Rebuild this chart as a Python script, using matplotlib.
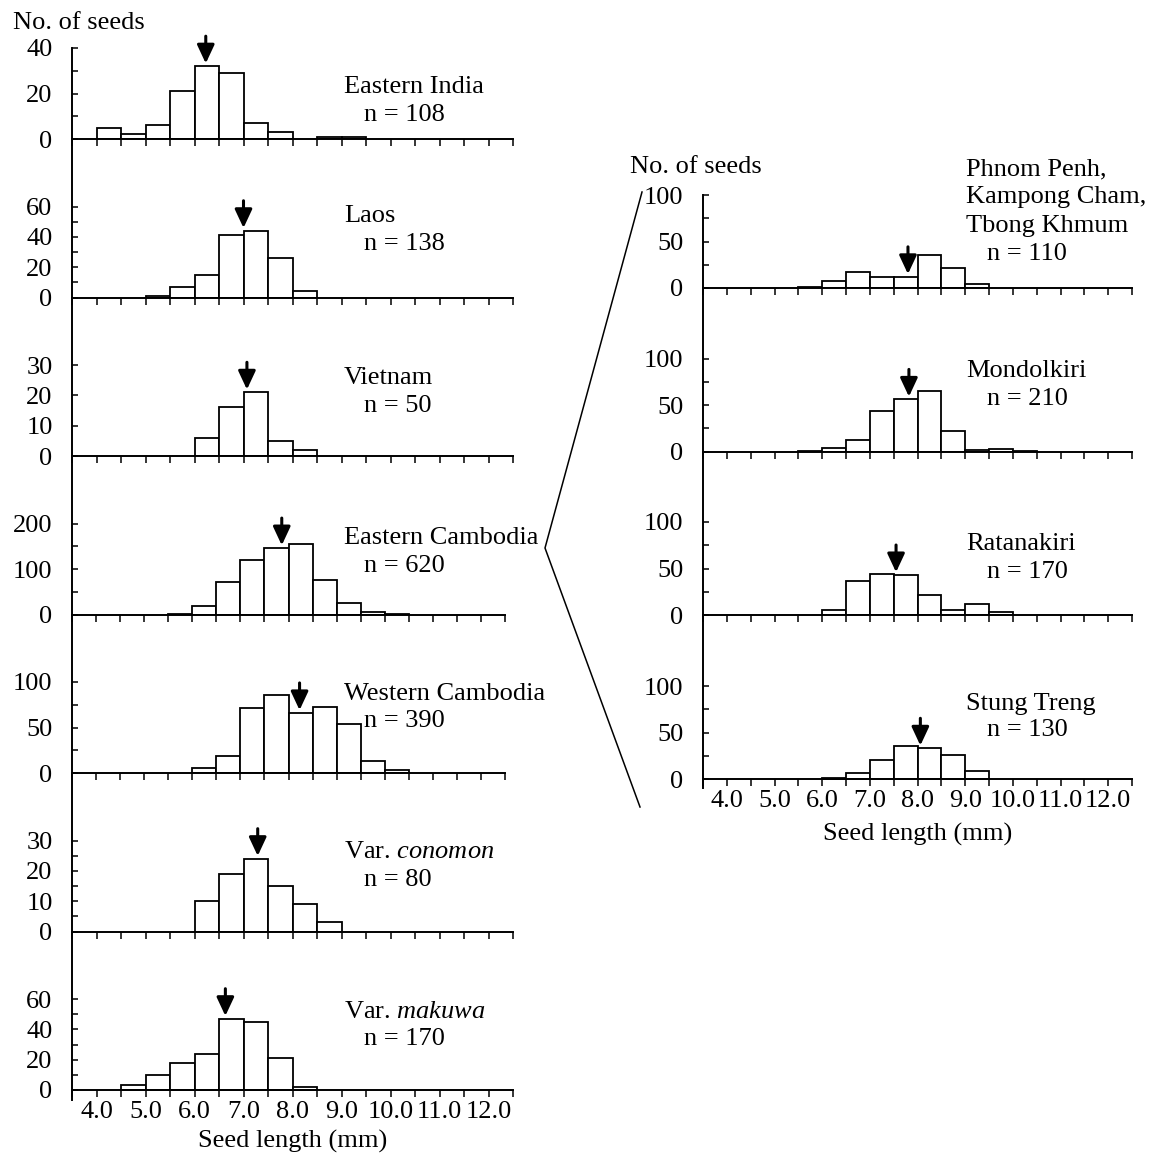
import numpy as np
import matplotlib.pyplot as plt
from matplotlib.lines import Line2D

plt.rcParams['font.family'] = ['Liberation Serif', 'DejaVu Serif']
plt.rcParams['mathtext.fontset'] = 'custom'
plt.rcParams['mathtext.rm'] = 'Liberation Serif'
plt.rcParams['mathtext.it'] = 'Liberation Serif:italic'
plt.rcParams['font.size'] = 19

# left edges of the 0.5 mm bins
bin_left = [4.0, 4.5, 5.0, 5.5, 6.0, 6.5, 7.0, 7.5, 8.0, 8.5, 9.0, 9.5, 10.0]
xtick_labels = ['4.0', '5.0', '6.0', '7.0', '8.0', '9.0', '10.0', '11.0', '12.0']

left_names = ['Eastern India', 'Laos', 'Vietnam', 'Eastern Cambodia',
              'Western Cambodia', 'Var. $\\mathit{conomon}$', 'Var. $\\mathit{makuwa}$']
left_n = [108, 138, 50, 620, 390, 80, 170]
east_india = [5, 2, 6, 21, 32, 29, 7, 3, 0, 1, 1, 0, 0]
laos = [0, 0, 1, 7, 15, 41, 44, 26, 4, 0, 0, 0, 0]
vietnam = [0, 0, 0, 0, 6, 16, 21, 5, 2, 0, 0, 0, 0]
east_cambodia = [0, 0, 0, 2, 18, 72, 120, 146, 154, 75, 26, 5, 2]
west_cambodia = [0, 0, 0, 0, 5, 19, 71, 86, 66, 73, 54, 13, 3]
conomon = [0, 0, 0, 0, 10, 19, 24, 15, 9, 3, 0, 0, 0]
makuwa = [0, 3, 10, 18, 24, 47, 45, 21, 2, 0, 0, 0, 0]
left_counts = [east_india, laos, vietnam, east_cambodia, west_cambodia, conomon, makuwa]
left_means = [6.23, 7.0, 7.07, 7.86, 8.23, 7.29, 6.63]
left_ymax = [40, 60, 30, 200, 100, 30, 60]
left_ystep = [20, 20, 10, 100, 50, 10, 20]
left_yminor = [10, 10, 10, 50, 25, 5, 10]

right_names = ['Phnom Penh,\nKampong Cham,\nTbong Khmum', 'Mondolkiri', 'Ratanakiri', 'Stung Treng']
right_n = [110, 210, 170, 130]
phnom_penh = [0, 0, 0, 1, 7, 17, 12, 12, 35, 22, 4, 0, 0]
mondolkiri = [0, 0, 0, 1, 4, 12, 44, 56, 65, 22, 2, 3, 1]
ratanakiri = [0, 0, 0, 0, 5, 37, 44, 43, 21, 5, 12, 3, 0]
stung_treng = [0, 0, 0, 0, 1, 6, 20, 35, 33, 26, 9, 0, 0]
right_counts = [phnom_penh, mondolkiri, ratanakiri, stung_treng]
right_means = [7.80, 7.82, 7.55, 8.06]
right_ymax = [100, 100, 100, 100]
right_ystep = [50, 50, 50, 50]
right_yminor = [25, 25, 25, 25]

W, H = 1155, 1158
PT = 0.72  # points per pixel at dpi 100

fig = plt.figure(figsize=(W / 100, H / 100), dpi=100)


def make_axes(x0, x1, top, bottom):
    return fig.add_axes([x0 / W, 1 - bottom / H, (x1 - x0) / W, (bottom - top) / H])


def draw_panel(ax, counts, mean, ymax, ystep, yminor, name, n, height_px, tick_px,
               below_px, name_dy, n_dy, name_dx, n_dx, last):
    ax.set_facecolor('none')
    ax.set_ylim(-ymax * below_px / tick_px, ymax * height_px / tick_px)
    ax.set_xlim(3.5, 12.5)
    xs = [b for b, c in zip(bin_left, counts) if c > 0]
    hs = [c for c in counts if c > 0]
    ax.bar(xs, hs, width=0.5, align='edge', facecolor='white',
           edgecolor='black', linewidth=1.3, zorder=2)

    for s in ['top', 'right']:
        ax.spines[s].set_visible(False)
    ax.spines['bottom'].set_position(('data', 0))
    ax.spines['left'].set_linewidth(1.4)
    ax.spines['bottom'].set_linewidth(1.4)
    ax.spines['bottom'].set_zorder(3)

    ax.set_yticks(np.arange(0, ymax + 0.1, ystep))
    ax.set_yticks(np.arange(0, ymax + 0.1, yminor), minor=True)
    ax.tick_params(axis='y', which='both', direction='in', length=4, width=1.1, pad=14)
    ax.set_xticks(np.arange(4.0, 12.01, 1.0))
    ax.set_xticks(np.arange(3.5, 12.51, 1.0), minor=True)
    ax.tick_params(axis='x', which='both', direction='out', length=5, width=1.1, pad=3)
    if last:
        ax.set_xticklabels(xtick_labels)
    else:
        ax.set_xticklabels([])

    # mean marker
    idx = int((mean - bin_left[0]) // 0.5)
    h = counts[idx]
    ax.annotate('', xy=(mean, h), xytext=(0, 30 * PT), textcoords='offset points',
                arrowprops=dict(arrowstyle='-|>,head_length=0.75,head_width=0.35',
                                lw=2.2, color='black', shrinkA=0, shrinkB=2,
                                mutation_scale=15), zorder=4)

    lines = name.split('\n')
    for k, line in enumerate(lines):
        dy = name_dy + (len(lines) - 1 - k) * 28.5
        ax.annotate(line, xy=(3.5, 0), xytext=(name_dx * PT, dy * PT),
                    textcoords='offset points', ha='left', va='baseline')
    ax.annotate('n = %d' % n, xy=(3.5, 0), xytext=(n_dx * PT, n_dy * PT),
                textcoords='offset points', ha='left', va='baseline')


# left column
left_base = [139 + 158.5 * i for i in range(7)]
left_name_dy = [46, 75, 72, 71, 73, 74, 72]
left_n_dy = [18, 47, 44, 43, 46, 46, 45]
for i in range(7):
    base = left_base[i]
    top = base - 91 if i == 0 else base - 158.5
    x1 = 505 if i in (3, 4) else 513
    below = 10 if i == 6 else 0
    ax = make_axes(72, x1, top, base + below)
    draw_panel(ax, left_counts[i], left_means[i], left_ymax[i], left_ystep[i],
               left_yminor[i], left_names[i], left_n[i], base - top, 91, below,
               left_name_dy[i], left_n_dy[i], 272, 292, i == 6)

# right column
right_base = [288, 451.5, 615, 779]
right_name_dy = [56, 75, 65, 69]
right_n_dy = [28, 47, 37, 43]
for i in range(4):
    base = right_base[i]
    top = base - 93 if i == 0 else right_base[i - 1]
    below = 9 if i == 3 else 0
    ax = make_axes(703, 1132, top, base + below)
    draw_panel(ax, right_counts[i], right_means[i], right_ymax[i], right_ystep[i],
               right_yminor[i], right_names[i], right_n[i], base - top, 93, below,
               right_name_dy[i], right_n_dy[i], 263, 284, i == 3)

# axis titles
fig.text(12.7 / W, 1 - 29.3 / H, 'No. of seeds', ha='left', va='baseline')
fig.text(630 / W, 1 - 172.7 / H, 'No. of seeds', ha='left', va='baseline')
fig.text(292.5 / W, 1 - 1148 / H, 'Seed length (mm)', ha='center', va='baseline')
fig.text(917.5 / W, 1 - 841 / H, 'Seed length (mm)', ha='center', va='baseline')

# zoom lines from Eastern Cambodia to the right column
fig.add_artist(Line2D([642 / W, 545 / W, 640 / W],
                      [1 - 192 / H, 1 - 548 / H, 1 - 807 / H],
                      color='black', linewidth=1.1))

fig.savefig('out.png', dpi=100)
